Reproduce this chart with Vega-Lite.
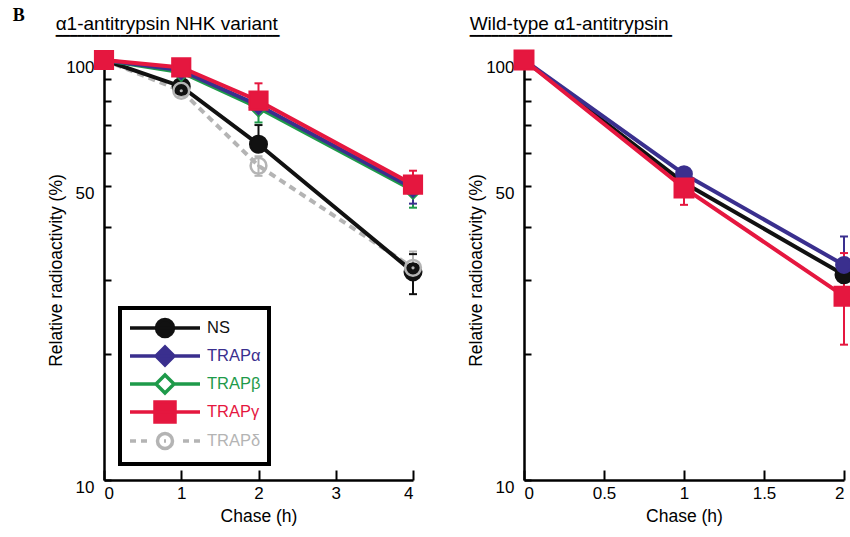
{
  "$schema": "https://vega.github.io/schema/vega-lite/v6.json",
  "background": "white",
  "padding": {"left": 12, "top": 6, "right": 0, "bottom": 4},
  "title": {"text": "B", "anchor": "start", "frame": "bounds", "font": "Liberation Serif", "fontSize": 18, "fontWeight": "bold", "color": "black", "dx": -35, "offset": -10},
  "config": {
    "view": {"stroke": null},
    "font": "Liberation Sans",
    "axis": {"domainColor": "black", "domainWidth": 2.5, "tickColor": "black", "tickWidth": 2, "grid": false, "labelFont": "Liberation Sans", "labelFontSize": 17, "labelColor": "black", "titleFont": "Liberation Sans", "titleFontSize": 17.5, "titleFontWeight": "normal", "titleColor": "black"},
    "title": {"anchor": "start", "frame": "bounds", "font": "Liberation Sans", "fontSize": 19, "fontWeight": "normal", "color": "black", "subtitleFont": "DejaVu Sans Mono", "subtitleFontSize": 12, "subtitleColor": "black", "subtitlePadding": 0, "offset": -1, "dx": 8}
  },
  "datasets": {
    "nhk": [
      {"series": "NS", "t": 0, "v": 100},
      {"series": "NS", "t": 1, "v": 86.5},
      {"series": "NS", "t": 2, "v": 63, "hi": 70},
      {"series": "NS", "t": 4, "v": 31.3, "lo": 27.7, "hi": 34.5},
      {"series": "TRAPδ", "t": 0, "v": 100},
      {"series": "TRAPδ", "t": 1, "v": 84.5, "lo": 82},
      {"series": "TRAPδ", "t": 2, "v": 56, "lo": 53, "hi": 59},
      {"series": "TRAPδ", "t": 4, "v": 32, "hi": 35},
      {"series": "TRAPβ", "t": 0, "v": 100},
      {"series": "TRAPβ", "t": 1, "v": 93.5},
      {"series": "TRAPβ", "t": 2, "v": 77, "lo": 71},
      {"series": "TRAPβ", "t": 4, "v": 49, "lo": 44.5},
      {"series": "TRAPα", "t": 0, "v": 100},
      {"series": "TRAPα", "t": 1, "v": 94.5},
      {"series": "TRAPα", "t": 2, "v": 78},
      {"series": "TRAPα", "t": 4, "v": 49.5, "lo": 45.5},
      {"series": "TRAPγ", "t": 0, "v": 100},
      {"series": "TRAPγ", "t": 1, "v": 96},
      {"series": "TRAPγ", "t": 2, "v": 80, "hi": 88},
      {"series": "TRAPγ", "t": 4, "v": 50.5, "hi": 54.5}
    ],
    "wt": [
      {"series": "NS", "t": 0, "v": 100},
      {"series": "NS", "t": 1, "v": 51},
      {"series": "NS", "t": 2, "v": 30.8},
      {"series": "TRAPα", "t": 0, "v": 100},
      {"series": "TRAPα", "t": 1, "v": 53.5},
      {"series": "TRAPα", "t": 2, "v": 32.5, "hi": 38},
      {"series": "TRAPγ", "t": 0, "v": 100},
      {"series": "TRAPγ", "t": 1, "v": 49.6, "lo": 45.2, "hi": 53.5},
      {"series": "TRAPγ", "t": 2, "v": 27.4, "lo": 21, "hi": 34.7}
    ]
  },
  "spacing": 40,
  "hconcat": [
    {
      "width": 309,
      "height": 420,
      "title": {"text": "α1-antitrypsin NHK variant", "subtitle": "▔▔▔▔▔▔▔▔▔▔▔▔▔▔▔▔▔▔▔▔▔▔▔▔▔▔▔▔▔▔▔"},
      "data": {"name": "nhk"},
      "encoding": {
        "x": {"field": "t", "type": "quantitative", "scale": {"domain": [0, 4], "nice": false}, "axis": {"title": "Chase (h)", "values": [0, 1, 2, 3, 4], "labelExpr": "''+datum.value", "tickSize": -10, "labelPadding": 15, "titlePadding": 6}},
        "y": {"field": "v", "type": "quantitative", "scale": {"type": "log", "domain": [10, 100], "nice": false}, "axis": {"title": "Relative radioactivity (%)", "values": [10, 20, 30, 40, 50, 60, 70, 80, 90, 100], "labelExpr": "(datum.value==10||datum.value==50||datum.value==100) ? ''+datum.value : ''", "tickSize": -7, "labelPadding": 17, "labelOffset": 7, "titlePadding": 0, "labelOverlap": false}}
      },
      "layer": [
        {
          "transform": [{"filter": "datum.series==='TRAPδ'"}],
          "mark": {"type": "line", "strokeWidth": 4, "strokeDash": [7, 5], "color": "#b4b4b4"}
        },
        {
          "transform": [{"filter": "datum.series!=='TRAPδ'"}],
          "mark": {"type": "line", "strokeWidth": 4},
          "encoding": {
            "color": {"field": "series", "type": "nominal", "scale": {"domain": ["NS", "TRAPα", "TRAPβ", "TRAPγ", "TRAPδ"], "range": ["#111111", "#3a2f8e", "#1e9a4a", "#e5173f", "#b4b4b4"]},
              "legend": {
                "title": null, "orient": "bottom-left", "offset": 16, "padding": 8,
                "strokeColor": "black", "fillColor": "white",
                "symbolSize": 400, "labelOffset": 55, "rowPadding": -7.5,
                "labelFontSize": 16.5, "labelFont": "Liberation Sans",
                "encode": {
                  "legend": {"update": {"strokeWidth": {"value": 4}}},
                  "symbols": {"update": {
                    "shape": {"signal": "datum.value==='NS' ? 'M-1,0H6M3.35,0A0.85,0.85,0,1,1,1.65,0A0.85,0.85,0,1,1,3.35,0Z' : datum.value==='TRAPα' ? 'M-1,0H6M2.5,-0.9L3.4,0L2.5,0.9L1.6,0Z' : datum.value==='TRAPβ' ? 'M-1,0H1.6M3.4,0H6M2.5,-0.9L3.4,0L2.5,0.9L1.6,0Z' : datum.value==='TRAPγ' ? 'M-1,0H6M1.5,-1H3.5V1H1.5Z' : 'M-1,0H-0.4M0.1,0H0.7M4.3,0H4.9M5.4,0H6M3.25,0A0.75,0.75,0,1,1,1.75,0A0.75,0.75,0,1,1,3.25,0ZM2.4,0H2.6'"},
                    "fill": {"signal": "datum.value==='NS' ? '#111111' : datum.value==='TRAPα' ? '#3a2f8e' : datum.value==='TRAPγ' ? '#e5173f' : '#ffffff'"},
                    "stroke": {"signal": "datum.value==='NS' ? '#111111' : datum.value==='TRAPα' ? '#3a2f8e' : datum.value==='TRAPβ' ? '#1e9a4a' : datum.value==='TRAPγ' ? '#e5173f' : '#b4b4b4'"},
                    "strokeWidth": {"value": 3.5},
                    "opacity": {"value": 1}
                  }},
                  "labels": {"update": {
                    "fill": {"signal": "datum.value==='NS' ? '#111111' : datum.value==='TRAPα' ? '#3a2f8e' : datum.value==='TRAPβ' ? '#1e9a4a' : datum.value==='TRAPγ' ? '#e5173f' : '#b4b4b4'"}
                  }}
                }
              }
            }
          }
        },
        {
          "transform": [{"filter": "isValid(datum.hi)"}],
          "mark": {"type": "rule", "strokeWidth": 2},
          "encoding": {
            "y2": {"field": "hi"},
            "color": {"field": "series", "type": "nominal"}
          }
        },
        {
          "transform": [{"filter": "isValid(datum.lo)"}],
          "mark": {"type": "rule", "strokeWidth": 2},
          "encoding": {
            "y2": {"field": "lo"},
            "color": {"field": "series", "type": "nominal"}
          }
        },
        {
          "transform": [{"filter": "isValid(datum.hi)"}],
          "mark": {"type": "point", "shape": "stroke", "size": 64, "strokeWidth": 2, "opacity": 1},
          "encoding": {
            "y": {"field": "hi", "type": "quantitative", "scale": {"type": "log", "domain": [10, 100], "nice": false}, "axis": {"title": "Relative radioactivity (%)", "values": [10, 20, 30, 40, 50, 60, 70, 80, 90, 100], "labelExpr": "(datum.value==10||datum.value==50||datum.value==100) ? ''+datum.value : ''", "tickSize": -7, "labelPadding": 17, "labelOffset": 7, "titlePadding": 0, "labelOverlap": false}},
            "color": {"field": "series", "type": "nominal"}
          }
        },
        {
          "transform": [{"filter": "isValid(datum.lo)"}],
          "mark": {"type": "point", "shape": "stroke", "size": 64, "strokeWidth": 2, "opacity": 1},
          "encoding": {
            "y": {"field": "lo", "type": "quantitative", "scale": {"type": "log", "domain": [10, 100], "nice": false}, "axis": {"title": "Relative radioactivity (%)", "values": [10, 20, 30, 40, 50, 60, 70, 80, 90, 100], "labelExpr": "(datum.value==10||datum.value==50||datum.value==100) ? ''+datum.value : ''", "tickSize": -7, "labelPadding": 17, "labelOffset": 7, "titlePadding": 0, "labelOverlap": false}},
            "color": {"field": "series", "type": "nominal"}
          }
        },
        {
          "transform": [{"filter": "datum.series==='NS'"}],
          "mark": {"type": "point", "shape": "circle", "size": 290, "filled": true, "fill": "#111111", "stroke": "#111111", "strokeWidth": 2, "opacity": 1}
        },
        {
          "transform": [{"filter": "datum.series==='TRAPδ'"}],
          "mark": {"type": "point", "shape": "circle", "size": 250, "filled": false, "stroke": "#b4b4b4", "strokeWidth": 2.5, "opacity": 1}
        },
        {
          "transform": [{"filter": "datum.series==='TRAPδ'"}],
          "mark": {"type": "point", "shape": "circle", "size": 10, "filled": true, "fill": "#b4b4b4", "opacity": 1}
        },
        {
          "transform": [{"filter": "datum.series==='TRAPβ'"}],
          "mark": {"type": "point", "shape": "diamond", "size": 300, "filled": true, "fill": "#ffffff", "stroke": "#1e9a4a", "strokeWidth": 2, "opacity": 1}
        },
        {
          "transform": [{"filter": "datum.series==='TRAPα'"}],
          "mark": {"type": "point", "shape": "diamond", "size": 300, "filled": true, "fill": "#3a2f8e", "stroke": "#3a2f8e", "strokeWidth": 2, "opacity": 1}
        },
        {
          "transform": [{"filter": "datum.series==='TRAPγ'"}],
          "mark": {"type": "point", "shape": "square", "size": 330, "filled": true, "fill": "#e5173f", "stroke": "#e5173f", "strokeWidth": 2, "opacity": 1}
        }
      ]
    },
    {
      "width": 320,
      "height": 420,
      "title": {"text": "Wild-type α1-antitrypsin", "subtitle": "▔▔▔▔▔▔▔▔▔▔▔▔▔▔▔▔▔▔▔▔▔▔▔▔▔▔▔▔", "dx": 2},
      "data": {"name": "wt"},
      "encoding": {
        "x": {"field": "t", "type": "quantitative", "scale": {"domain": [0, 2], "nice": false}, "axis": {"title": "Chase (h)", "values": [0, 0.5, 1, 1.5, 2], "labelExpr": "''+datum.value", "tickSize": -10, "labelPadding": 15, "titlePadding": 6}},
        "y": {"field": "v", "type": "quantitative", "scale": {"type": "log", "domain": [10, 100], "nice": false}, "axis": {"title": "Relative radioactivity (%)", "values": [10, 20, 30, 40, 50, 60, 70, 80, 90, 100], "labelExpr": "(datum.value==10||datum.value==50||datum.value==100) ? ''+datum.value : ''", "tickSize": -7, "labelPadding": 17, "labelOffset": 7, "titlePadding": 0, "labelOverlap": false}}
      },
      "layer": [
        {
          "mark": {"type": "line", "strokeWidth": 4},
          "encoding": {
            "color": {"field": "series", "type": "nominal", "scale": {"domain": ["NS", "TRAPα", "TRAPβ", "TRAPγ", "TRAPδ"], "range": ["#111111", "#3a2f8e", "#1e9a4a", "#e5173f", "#b4b4b4"]}, "legend": null}
          }
        },
        {
          "transform": [{"filter": "isValid(datum.hi)"}],
          "mark": {"type": "rule", "strokeWidth": 2},
          "encoding": {
            "y2": {"field": "hi"},
            "color": {"field": "series", "type": "nominal", "legend": null}
          }
        },
        {
          "transform": [{"filter": "isValid(datum.lo)"}],
          "mark": {"type": "rule", "strokeWidth": 2},
          "encoding": {
            "y2": {"field": "lo"},
            "color": {"field": "series", "type": "nominal", "legend": null}
          }
        },
        {
          "transform": [{"filter": "isValid(datum.hi)"}],
          "mark": {"type": "point", "shape": "stroke", "size": 64, "strokeWidth": 2, "opacity": 1},
          "encoding": {
            "y": {"field": "hi", "type": "quantitative", "scale": {"type": "log", "domain": [10, 100], "nice": false}, "axis": {"title": "Relative radioactivity (%)", "values": [10, 20, 30, 40, 50, 60, 70, 80, 90, 100], "labelExpr": "(datum.value==10||datum.value==50||datum.value==100) ? ''+datum.value : ''", "tickSize": -7, "labelPadding": 17, "labelOffset": 7, "titlePadding": 0, "labelOverlap": false}},
            "color": {"field": "series", "type": "nominal", "legend": null}
          }
        },
        {
          "transform": [{"filter": "isValid(datum.lo)"}],
          "mark": {"type": "point", "shape": "stroke", "size": 64, "strokeWidth": 2, "opacity": 1},
          "encoding": {
            "y": {"field": "lo", "type": "quantitative", "scale": {"type": "log", "domain": [10, 100], "nice": false}, "axis": {"title": "Relative radioactivity (%)", "values": [10, 20, 30, 40, 50, 60, 70, 80, 90, 100], "labelExpr": "(datum.value==10||datum.value==50||datum.value==100) ? ''+datum.value : ''", "tickSize": -7, "labelPadding": 17, "labelOffset": 7, "titlePadding": 0, "labelOverlap": false}},
            "color": {"field": "series", "type": "nominal", "legend": null}
          }
        },
        {
          "transform": [{"filter": "datum.series==='NS'"}],
          "mark": {"type": "point", "shape": "circle", "size": 290, "filled": true, "fill": "#111111", "stroke": "#111111", "strokeWidth": 2, "opacity": 1}
        },
        {
          "transform": [{"filter": "datum.series==='TRAPα'"}],
          "mark": {"type": "point", "shape": "circle", "size": 250, "filled": true, "fill": "#3a2f8e", "stroke": "#3a2f8e", "strokeWidth": 2, "opacity": 1}
        },
        {
          "transform": [{"filter": "datum.series==='TRAPγ'"}],
          "mark": {"type": "point", "shape": "square", "size": 360, "filled": true, "fill": "#e5173f", "stroke": "#e5173f", "strokeWidth": 2, "opacity": 1}
        }
      ]
    }
  ]
}
